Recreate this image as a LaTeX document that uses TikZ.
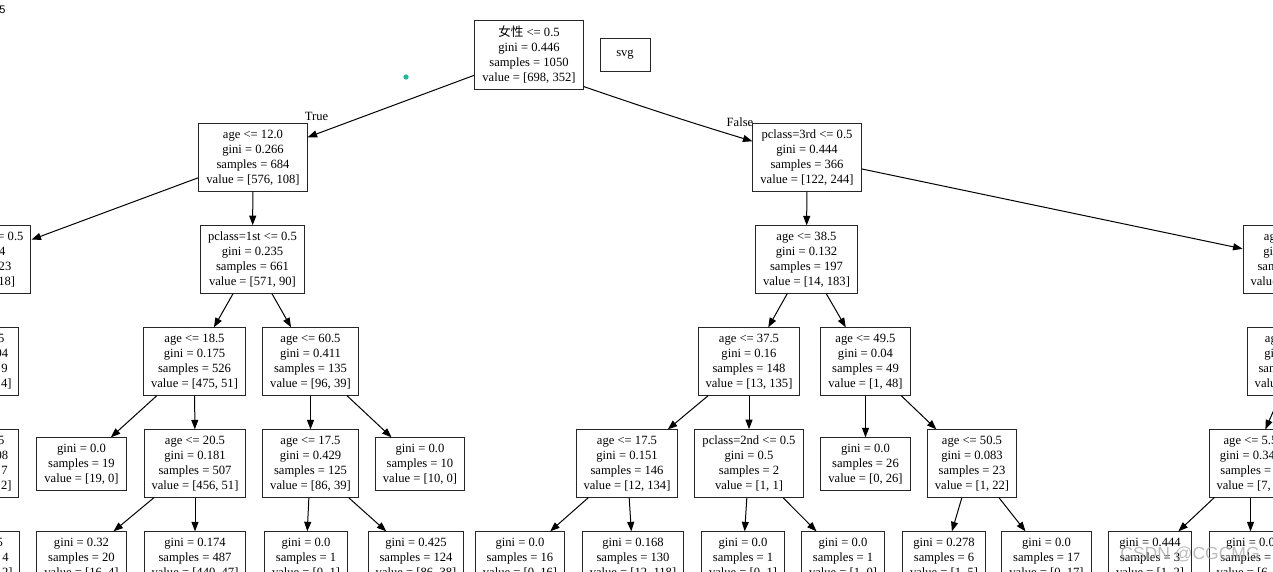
\documentclass[tikz,border=0pt]{standalone}
\usepackage{fontspec}
\setmainfont{Liberation Serif}
\newfontfamily\cjk{Noto Sans CJK SC}
\newfontfamily\uisans{Liberation Sans}
\usetikzlibrary{arrows.meta}
\definecolor{dotgreen}{HTML}{1ABC9C}

\begin{document}
\begin{tikzpicture}[x=1pt, y=-1pt,
    box/.style={draw=black!85, line width=1pt, align=center, inner xsep=7.5pt, inner ysep=6pt, font=\fontsize{12.6}{15}\selectfont},
    arr/.style={-{Triangle[length=9.5pt,width=7pt]}, line width=1pt},
    lbl/.style={inner sep=0pt, font=\fontsize{12.6}{15}\selectfont}]
                \useasboundingbox (0,0) rectangle (1273,571);
                \fill[white] (0,0) rectangle (1273,571);
                \clip (0,0) rectangle (1273,571);

                % screen bits
                \node[inner sep=0pt, font=\uisans\fontsize{11}{12}\selectfont] (corner) at (2.5,9.5) {5};
                \fill[dotgreen] (406,77) circle (2.6pt);

                % root
                \node[box] (root) at (529,55) {{\cjk 女性} <= 0.5\\gini = 0.446\\samples = 1050\\value = [698, 352]};
                \node[box, minimum width=50pt, minimum height=33pt, inner sep=0pt] (svg) at (625,54.5) {svg};

                % level 1
                \node[box] (t) at (253,157.5) {age <= 12.0\\gini = 0.266\\samples = 684\\value = [576, 108]};
                \node[box] (f) at (807,157.5) {pclass=3rd <= 0.5\\gini = 0.444\\samples = 366\\value = [122, 244]};
                \node[lbl] (ltrue) at (316.5,116.5) {True};
                \node[lbl] (lfalse) at (740,122) {False};

                % level 2
                \node[box] (tl) at (-22,259.5) {pclass=3rd <= 0.5\\gini = 0.34\\samples = 23\\value = [5, 18]};
                \node[box] (tr) at (252.5,259.5) {pclass=1st <= 0.5\\gini = 0.235\\samples = 661\\value = [571, 90]};
                \node[box] (fl) at (806.5,259.5) {age <= 38.5\\gini = 0.132\\samples = 197\\value = [14, 183]};
                \node[box] (fr) at (1294,259.5) {age <= 38.5\\gini = 0.461\\samples = 169\\value = [108, 61]};

                % level 3
                \node[box] (tlr) at (-22.5,361.5) {age <= 5.5\\gini = 0.494\\samples = 9\\value = [5, 4]};
                \node[box] (trl) at (194.5,361.5) {age <= 18.5\\gini = 0.175\\samples = 526\\value = [475, 51]};
                \node[box] (trr) at (310.5,361.5) {age <= 60.5\\gini = 0.411\\samples = 135\\value = [96, 39]};
                \node[box] (fll) at (749,361.5) {age <= 37.5\\gini = 0.16\\samples = 148\\value = [13, 135]};
                \node[box] (flr) at (865.5,361.5) {age <= 49.5\\gini = 0.04\\samples = 49\\value = [1, 48]};
                \node[box] (frl) at (1295,361.5) {age <= 36.5\\gini = 0.482\\samples = 106\\value = [63, 43]};

                % level 4
                \node[box] (tlrl) at (-22.5,463.5) {age <= 3.5\\gini = 0.408\\samples = 7\\value = [5, 2]};
                \node[box] (trll) at (81.5,464) {gini = 0.0\\samples = 19\\value = [19, 0]};
                \node[box] (trlr) at (195,463.5) {age <= 20.5\\gini = 0.181\\samples = 507\\value = [456, 51]};
                \node[box] (trrl) at (310.5,463.5) {age <= 17.5\\gini = 0.429\\samples = 125\\value = [86, 39]};
                \node[box] (trrr) at (420,464) {gini = 0.0\\samples = 10\\value = [10, 0]};
                \node[box] (flll) at (627,463.5) {age <= 17.5\\gini = 0.151\\samples = 146\\value = [12, 134]};
                \node[box] (fllr) at (749,463.5) {pclass=2nd <= 0.5\\gini = 0.5\\samples = 2\\value = [1, 1]};
                \node[box] (flrl) at (865.5,464) {gini = 0.0\\samples = 26\\value = [0, 26]};
                \node[box] (flrr) at (972,463.5) {age <= 50.5\\gini = 0.083\\samples = 23\\value = [1, 22]};
                \node[box] (frll) at (1250.5,463.5) {age <= 5.5\\gini = 0.346\\samples = 9\\value = [7, 2]};

                % level 5
                \node[box] (tlrll) at (-21.5,558) {gini = 0.5\\samples = 4\\value = [2, 2]};
                \node[box] (trlrl) at (81.5,558) {gini = 0.32\\samples = 20\\value = [16, 4]};
                \node[box] (trlrr) at (195,558) {gini = 0.174\\samples = 487\\value = [440, 47]};
                \node[box] (trrll) at (306,558) {gini = 0.0\\samples = 1\\value = [0, 1]};
                \node[box] (trrlr) at (416,558) {gini = 0.425\\samples = 124\\value = [86, 38]};
                \node[box] (fllll) at (520,558) {gini = 0.0\\samples = 16\\value = [0, 16]};
                \node[box] (flllr) at (633,558) {gini = 0.168\\samples = 130\\value = [12, 118]};
                \node[box] (fllrl) at (743,558) {gini = 0.0\\samples = 1\\value = [0, 1]};
                \node[box] (fllrr) at (843,558) {gini = 0.0\\samples = 1\\value = [1, 0]};
                \node[box] (flrrl) at (944,558) {gini = 0.278\\samples = 6\\value = [1, 5]};
                \node[box] (flrrr) at (1046.5,558) {gini = 0.0\\samples = 17\\value = [0, 17]};
                \node[box] (frlll) at (1150,558) {gini = 0.444\\samples = 3\\value = [1, 2]};
                \node[box] (frllr) at (1250.5,558) {gini = 0.0\\samples = 6\\value = [6, 0]};

                % edges
                \draw[arr] (root) -- (t);
                \draw[arr] (root.-30) to[bend right=1] (f);
                \draw[arr] (t) -- (tl);
                \draw[arr] (t) -- (tr);
                \draw[arr] (f) -- (fl);
                \draw[arr] (f) -- (fr);
                \draw[arr] (tl) -- (tlr);
                \draw[arr] (tr) -- (trl);
                \draw[arr] (tr) -- (trr);
                \draw[arr] (fl) -- (fll);
                \draw[arr] (fl) -- (flr);
                \draw[arr] (fr) -- (frl);
                \draw[arr] (tlr) -- (tlrl);
                \draw[arr] (trl) -- (trll);
                \draw[arr] (trl) -- (trlr);
                \draw[arr] (trr) -- (trrl);
                \draw[arr] (trr) -- (trrr);
                \draw[arr] (fll) -- (flll);
                \draw[arr] (fll) -- (fllr);
                \draw[arr] (flr) -- (flrl);
                \draw[arr] (flr) -- (flrr);
                \draw[arr] (frl) -- (frll);
                \draw[arr] (tlrl) -- (tlrll);
                \draw[arr] (trlr) -- (trlrl);
                \draw[arr] (trlr) -- (trlrr);
                \draw[arr] (trrl) -- (trrll);
                \draw[arr] (trrl) -- (trrlr);
                \draw[arr] (flll) -- (fllll);
                \draw[arr] (flll) -- (flllr);
                \draw[arr] (fllr) -- (fllrl);
                \draw[arr] (fllr) -- (fllrr);
                \draw[arr] (flrr) -- (flrrl);
                \draw[arr] (flrr) -- (flrrr);
                \draw[arr] (frll) -- (frlll);
                \draw[arr] (frll) -- (frllr);

                % watermark
                \node[inner sep=0pt, text=black!35, opacity=.75, font=\uisans\fontsize{17.5}{18}\selectfont] (mark) at (1190,554) {CSDN @CGCMG};
            \end{tikzpicture}
\end{document}
